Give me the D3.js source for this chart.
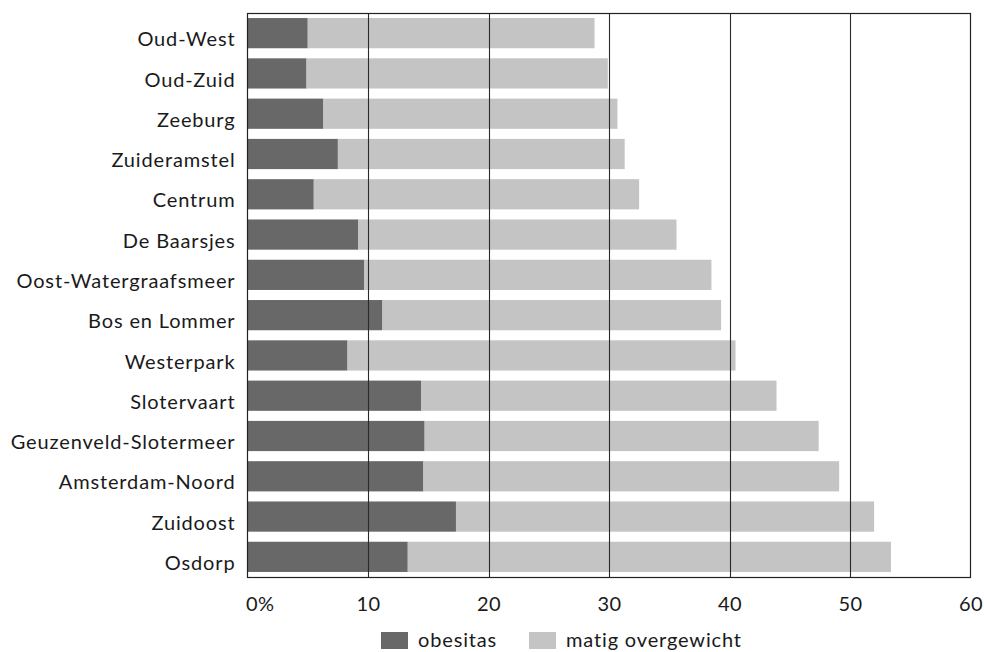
<!DOCTYPE html>
<html><head><meta charset="utf-8">
<script src="https://cdn.jsdelivr.net/npm/d3@7"></script>
<style>body{margin:0;background:#fff}svg{display:block}text{font-family:Lato,"Open Sans",sans-serif;fill:#1a1a1a}</style>
</head><body><svg id="c" width="984" height="652"></svg>
<script>
const categories = ["Oud-West","Oud-Zuid","Zeeburg","Zuideramstel","Centrum","De Baarsjes","Oost-Watergraafsmeer","Bos en Lommer","Westerpark","Slotervaart","Geuzenveld-Slotermeer","Amsterdam-Noord","Zuidoost","Osdorp"];
const obesitas = [5.0,4.9,6.3,7.5,5.5,9.2,9.7,11.2,8.3,14.4,14.7,14.6,17.3,13.3];
const matig = [23.8,25.0,24.4,23.8,27.0,26.4,28.8,28.1,32.2,29.5,32.7,34.5,34.7,40.1];
const seriesNames = ["obesitas","matig overgewicht"];
const colors = ["#686868","#c4c4c4"];
const xTicks = [0,10,20,30,40,50,60];

const svg = d3.select("#c");
const L=247.5, R=970.5, T=13, B=577;
const x = d3.scaleLinear().domain([0,60]).range([L,R]);
const y = d3.scaleBand().domain(categories).range([T,B]).paddingInner(0.25).paddingOuter(0.125);

const rows = categories.map((c,i)=>({cat:c, obesitas:obesitas[i], matig:matig[i]}));
const stack = d3.stack().keys(["obesitas","matig"])(rows);

// bars
svg.append("g").selectAll("g").data(stack).join("g").attr("fill",(d,i)=>colors[i])
  .selectAll("rect").data(d=>d).join("rect")
  .attr("x",d=>x(d[0])).attr("width",d=>x(d[1])-x(d[0]))
  .attr("y",d=>y(d.data.cat)).attr("height",y.bandwidth());

// gridlines
svg.append("g").selectAll("line").data(xTicks.slice(1,-1)).join("line")
  .attr("x1",d=>Math.round(x(d))+0.5).attr("x2",d=>Math.round(x(d))+0.5)
  .attr("y1",T).attr("y2",B).attr("stroke","#2a2a2a").attr("stroke-width",1.1);

// frame
svg.append("rect").attr("x",L).attr("y",T+0.5).attr("width",R-L).attr("height",B-T)
  .attr("fill","none").attr("stroke","#222").attr("stroke-width",1.2);

// x axis labels
const xa = svg.append("g").attr("transform",`translate(0,${B})`)
  .call(d3.axisBottom(x).tickValues(xTicks).tickSize(0).tickPadding(0).tickFormat(d=>d===0?"0%":d));
xa.select(".domain").remove();
xa.selectAll("text").attr("y",34).attr("dy",0).attr("font-size",20).attr("font-family","Lato")
  .attr("letter-spacing",0.3)
  .attr("text-anchor",d=>d===0?"start":"middle").attr("dx",d=>d===0?-2:0);

// y axis labels
const ya = svg.append("g").attr("transform",`translate(${L},0)`)
  .call(d3.axisLeft(y).tickSize(0).tickPadding(12));
ya.select(".domain").remove();
ya.selectAll("text").attr("font-size",20).attr("font-family","Lato").attr("letter-spacing",0.85).attr("dy","0.66em");

// legend
const leg = svg.append("g");
const lx = [381,529];
seriesNames.forEach((n,i)=>{
  leg.append("rect").attr("x",lx[i]).attr("y",632).attr("width",27).attr("height",17).attr("fill",colors[i]);
  leg.append("text").attr("x",lx[i]+37).attr("y",647).attr("font-size",20).attr("letter-spacing",0.85).text(n);
});
</script></body></html>
